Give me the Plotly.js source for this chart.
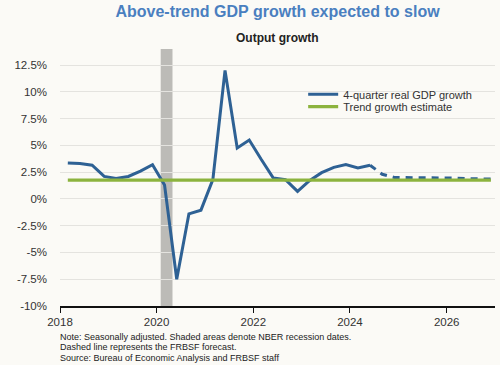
<!DOCTYPE html>
<html>
<head>
<meta charset="utf-8">
<script src="https://cdn.plot.ly/plotly-3.0.1.min.js"></script>
<style>
html,body{margin:0;padding:0;background:#fbfaf6;}
#chart{width:500px;height:365px;}
</style>
</head>
<body>
<div id="chart"></div>
<script>
// Quarterly dates (plotted at the third month of each quarter)
var actualDates = ['2018-03-01','2018-06-01','2018-09-01','2018-12-01',
  '2019-03-01','2019-06-01','2019-09-01','2019-12-01',
  '2020-03-01','2020-06-01','2020-09-01','2020-12-01',
  '2021-03-01','2021-06-01','2021-09-01','2021-12-01',
  '2022-03-01','2022-06-01','2022-09-01','2022-12-01',
  '2023-03-01','2023-06-01','2023-09-01','2023-12-01',
  '2024-03-01','2024-06-01'];
var actualGrowth = [3.35, 3.3, 3.15, 2.1,
  1.9, 2.1, 2.6, 3.2,
  1.3, -7.5, -1.4, -1.05,
  1.8, 12.0, 4.75, 5.5,
  3.7, 1.95, 1.8, 0.7,
  1.7, 2.45, 2.95, 3.2,
  2.9, 3.15];
var forecastDates = ['2024-06-01','2024-09-01','2024-12-01',
  '2025-03-01','2025-06-01','2025-09-01','2025-12-01',
  '2026-03-01','2026-06-01','2026-09-01','2026-12-01'];
var forecastGrowth = [3.15, 2.3, 2.0,
  2.0, 1.95, 1.95, 1.95,
  1.95, 1.9, 1.9, 1.85];
var trendDates = ['2018-03-01','2026-12-01'];
var trendGrowth = [1.75, 1.75];
var recessionStart = '2020-02-01';
var recessionEnd = '2020-04-30';
var xTickVals = ['2018-01-01','2020-01-01','2022-01-01','2024-01-01','2026-01-01'];
var xTickText = ['2018','2020','2022','2024','2026'];
var yTickVals = [-10, -7.5, -5, -2.5, 0, 2.5, 5, 7.5, 10, 12.5];
var yTickText = ['-10%','-7.5%','-5%','-2.5%','0%','2.5%','5%','7.5%','10%','12.5%'];
var noteLines = ['Note: Seasonally adjusted. Shaded areas denote NBER recession dates.',
  'Dashed line represents the FRBSF forecast.',
  'Source: Bureau of Economic Analysis and FRBSF staff'];

var FONT = 'Liberation Sans, Arial, Helvetica, sans-serif';
var BLUE = '#2e6194';
var GREEN = '#8cb33e';

var traces = [
  {x: actualDates, y: actualGrowth, type: 'scatter', mode: 'lines',
   name: '4-quarter real GDP growth', line: {color: BLUE, width: 3},
   legend: 'legend'},
  {x: forecastDates, y: forecastGrowth, type: 'scatter', mode: 'lines',
   name: 'Forecast', showlegend: false, line: {color: BLUE, width: 3, dash: '7px,6px'}},
  {x: trendDates, y: trendGrowth, type: 'scatter', mode: 'lines',
   name: 'Trend growth estimate', line: {color: GREEN, width: 3.3},
   legend: 'legend2', hoverinfo: 'skip'}
];

var annotations = [
  {text: '<b>Output growth</b>', xref: 'paper', yref: 'paper', x: 0.5, y: 1.0416,
   xanchor: 'center', yanchor: 'middle', showarrow: false,
   font: {family: FONT, size: 12, color: '#222'}}
];
var noteY = [-0.1195, -0.1605, -0.2015];
for (var i = 0; i < noteLines.length; i++) {
  annotations.push({text: noteLines[i], xref: 'paper', yref: 'paper', x: -0.005, y: noteY[i],
    xanchor: 'left', yanchor: 'middle', showarrow: false, align: 'left',
    font: {family: FONT, size: 9, color: '#222'}});
}

var layout = {
  width: 500, height: 365,
  margin: {l: 60, r: 5, t: 49, b: 59},
  paper_bgcolor: '#fbfaf6', plot_bgcolor: '#fbfaf6',
  font: {family: FONT, size: 11.5, color: '#333'},
  title: {text: '<b>Above-trend GDP growth expected to slow</b>',
    font: {family: FONT, size: 16, color: '#4a7fc0'},
    x: 0.5, xref: 'paper', xanchor: 'center', y: 0.968, yref: 'container', yanchor: 'middle'},
  xaxis: {type: 'date', range: ['2018-01-01', '2027-01-01'],
    tickvals: xTickVals, ticktext: xTickText,
    showgrid: false, zeroline: false,
    showline: true, linecolor: '#111', linewidth: 1.5,
    ticks: 'outside', ticklen: 5, tickcolor: '#111', tickwidth: 1,
    tickfont: {family: FONT, size: 11.5, color: '#333'}, fixedrange: true},
  yaxis: {range: [-10, 14], tickvals: yTickVals, ticktext: yTickText,
    showgrid: true, gridcolor: '#e4e3df', gridwidth: 1, zeroline: false,
    showline: false, ticks: '', ticklabelstandoff: 12,
    tickfont: {family: FONT, size: 11.5, color: '#333'}, fixedrange: true},
  shapes: [{type: 'rect', xref: 'x', yref: 'paper', x0: recessionStart, x1: recessionEnd,
    y0: 0, y1: 1, fillcolor: '#bcbbb7', line: {width: 0}, layer: 'below'}],
  legend: {x: 0.559, y: 0.824, xanchor: 'left', yanchor: 'middle', bgcolor: 'rgba(0,0,0,0)',
    font: {family: FONT, size: 11, color: '#333'}},
  legend2: {x: 0.559, y: 0.7755, xanchor: 'left', yanchor: 'middle', bgcolor: 'rgba(0,0,0,0)',
    font: {family: FONT, size: 11, color: '#333'}},
  annotations: annotations,
  showlegend: true
};

Plotly.newPlot('chart', traces, layout, {displayModeBar: false, staticPlot: true});
</script>
</body>
</html>
